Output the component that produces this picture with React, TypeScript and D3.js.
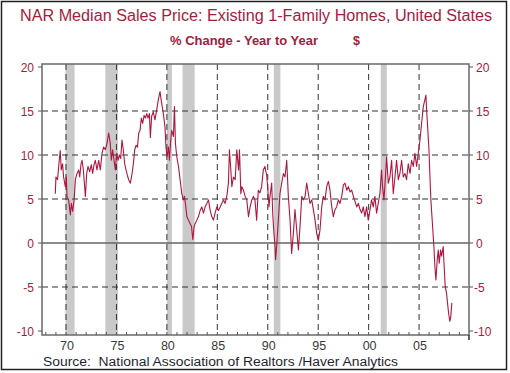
import React, { useEffect, useRef } from 'react';
import * as d3 from 'd3';

// % change year to year, NAR median sales price
const years = [
  1968.94, 1969.0, 1969.16, 1969.33, 1969.43, 1969.53, 1969.66, 1969.76, 1969.93, 1970.03,
  1970.1, 1970.26, 1970.43, 1970.53, 1970.66, 1970.8, 1970.93, 1971.09, 1971.26, 1971.36,
  1971.49, 1971.59, 1971.72, 1971.92, 1972.05, 1972.18, 1972.35, 1972.51, 1972.64, 1972.78,
  1972.91, 1973.07, 1973.24, 1973.4, 1973.57, 1973.73, 1973.9, 1974.06, 1974.23, 1974.39,
  1974.49, 1974.62, 1974.76, 1974.89, 1975.02, 1975.16, 1975.29, 1975.42, 1975.55, 1975.68,
  1975.82, 1975.95, 1976.08, 1976.21, 1976.38, 1976.55, 1976.68, 1976.81, 1976.94, 1977.08,
  1977.21, 1977.34, 1977.47, 1977.6, 1977.74, 1977.87, 1978.0, 1978.13, 1978.27, 1978.36,
  1978.49, 1978.65, 1978.82, 1978.99, 1979.15, 1979.32, 1979.48, 1979.65, 1979.81, 1979.91,
  1980.01, 1980.15, 1980.25, 1980.38, 1980.48, 1980.65, 1980.75, 1980.85, 1980.98, 1981.15,
  1981.31, 1981.48, 1981.64, 1981.74, 1981.88, 1981.98, 1982.14, 1982.31, 1982.44, 1982.57,
  1982.7, 1982.8, 1982.97, 1983.13, 1983.3, 1983.46, 1983.63, 1983.79, 1983.96, 1984.12,
  1984.29, 1984.45, 1984.62, 1984.78, 1984.95, 1985.11, 1985.28, 1985.44, 1985.61, 1985.77,
  1985.94, 1986.1, 1986.2, 1986.34, 1986.44, 1986.6, 1986.77, 1986.93, 1987.1, 1987.2,
  1987.33, 1987.43, 1987.59, 1987.76, 1987.92, 1988.09, 1988.25, 1988.42, 1988.58, 1988.73,
  1988.9, 1989.06, 1989.23, 1989.39, 1989.56, 1989.72, 1989.89, 1989.99, 1990.12, 1990.22,
  1990.39, 1990.49, 1990.59, 1990.72, 1990.78, 1990.88, 1991.05, 1991.21, 1991.38, 1991.55,
  1991.71, 1991.88, 1992.04, 1992.21, 1992.37, 1992.54, 1992.7, 1992.87, 1993.04, 1993.2,
  1993.37, 1993.53, 1993.7, 1993.86, 1994.03, 1994.19, 1994.36, 1994.52, 1994.69, 1994.85,
  1995.02, 1995.18, 1995.35, 1995.51, 1995.68, 1995.84, 1996.01, 1996.17, 1996.34, 1996.5,
  1996.67, 1996.83, 1997.0, 1997.16, 1997.33, 1997.5, 1997.66, 1997.83, 1997.99, 1998.16,
  1998.32, 1998.49, 1998.65, 1998.82, 1998.98, 1999.15, 1999.31, 1999.47, 1999.63, 1999.8,
  1999.96, 2000.13, 2000.29, 2000.46, 2000.62, 2000.79, 2000.95, 2001.12, 2001.28, 2001.38,
  2001.52, 2001.65, 2001.78, 2001.95, 2002.11, 2002.28, 2002.44, 2002.61, 2002.77, 2002.94,
  2003.1, 2003.27, 2003.43, 2003.6, 2003.76, 2003.93, 2004.1, 2004.26, 2004.43, 2004.59,
  2004.76, 2004.92, 2005.09, 2005.25, 2005.42, 2005.58, 2005.68, 2005.75, 2005.85, 2005.98,
  2006.08, 2006.17, 2006.34, 2006.47, 2006.57, 2006.67, 2006.8, 2006.9, 2007.0, 2007.13,
  2007.23, 2007.39, 2007.49, 2007.59, 2007.72, 2007.82, 2007.92, 2008.05, 2008.15, 2008.25,
];

const pctChange = [
  5.6, 7.5, 7.2, 9.4, 10.5, 8.3, 9.0, 7.5, 6.4, 7.5,
  5.3, 4.9, 3.2, 4.5, 3.6, 4.9, 7.2, 7.9, 8.3, 7.5,
  9.0, 9.4, 8.3, 5.3, 7.9, 8.7, 8.1, 8.9, 7.9, 8.9,
  9.4, 8.3, 9.4, 8.3, 10.2, 10.9, 10.6, 11.3, 12.5, 11.3,
  9.4, 10.6, 9.4, 8.3, 10.2, 9.4, 10.0, 9.6, 11.7, 10.6,
  9.0, 8.3, 7.7, 7.2, 6.8, 7.9, 9.0, 10.6, 11.1, 10.9,
  12.5, 12.8, 14.2, 13.6, 14.5, 14.2, 14.7, 14.2, 14.7, 12.0,
  14.4, 14.9, 14.0, 15.1, 16.3, 17.2, 15.9, 14.7, 13.2, 10.9,
  9.8, 10.9, 9.4, 11.7, 12.8, 12.1, 15.5, 11.3, 9.8, 8.7,
  7.2, 5.6, 4.9, 5.3, 4.1, 3.0, 2.6, 2.2, 1.9, 0.4,
  1.9, 2.2, 2.6, 3.0, 3.7, 4.1, 3.4, 4.1, 4.5, 4.9,
  3.7, 3.0, 2.6, 3.4, 4.1, 3.7, 4.1, 4.5, 4.9, 4.5,
  5.3, 6.8, 10.6, 8.3, 6.4, 7.5, 7.2, 10.6, 8.3, 10.6,
  5.6, 6.4, 6.0, 5.3, 4.9, 3.0, 4.1, 4.9, 5.3, 4.9,
  2.6, 6.0, 5.7, 6.4, 8.3, 8.7, 7.7, 6.4, 4.1, 5.3,
  6.8, 3.4, 1.5, -0.4, -1.9, -0.4, 2.6, 5.6, 6.8, 7.9,
  7.5, 9.4, 5.3, 2.6, -1.2, 1.1, 3.8, 1.5, -0.8, 1.9,
  5.3, 4.9, 5.3, 6.8, 5.6, 4.5, 4.9, 3.8, 2.6, 1.1,
  0.3, 1.5, 4.1, 5.3, 4.9, 6.4, 7.0, 6.0, 4.1, 3.0,
  3.8, 4.1, 4.9, 4.5, 5.3, 6.6, 6.8, 6.0, 6.4, 5.8,
  6.0, 5.3, 4.7, 4.1, 4.5, 3.8, 3.4, 4.1, 3.0, 4.1,
  2.6, 3.7, 4.9, 4.1, 5.3, 3.4, 4.5, 5.6, 8.3, 6.4,
  4.9, 7.2, 9.8, 6.8, 7.5, 9.4, 5.6, 7.5, 9.4, 7.2,
  7.9, 9.4, 7.5, 7.9, 7.2, 9.0, 7.9, 9.4, 8.7, 10.2,
  8.7, 10.2, 11.7, 13.6, 15.5, 16.3, 16.8, 15.1, 13.2, 10.6,
  7.5, 4.9, 1.9, -0.4, -2.7, -4.2, -1.9, -0.8, -2.3, -0.8,
  -1.5, -0.4, -2.7, -4.9, -5.7, -6.8, -7.9, -8.9, -8.3, -6.8,
];

// recession periods (start, end)
const recessionStart = [1969.95, 1973.9, 1980.0, 1981.55, 1990.6, 2001.2];
const recessionEnd = [1970.85, 1975.15, 1980.5, 1982.75, 1991.25, 2001.8];

const yTicks = [-10, -5, 0, 5, 10, 15, 20];
const xTickYears = [1970, 1975, 1980, 1985, 1990, 1995, 2000, 2005];
const xTickLabels = ['70', '75', '80', '85', '90', '95', '00', '05'];

const red = '#a51c3e';
const font = 'Arial, "Liberation Sans", sans-serif';

const NarChart = () => {
  const svgRef = useRef(null);

  useEffect(() => {
    const svg = d3.select(svgRef.current);
    svg.selectAll('*').remove();

    const left = 42, right = 469, top = 64, bottom = 335;

    const x = d3.scaleLinear().domain([1967.62, 2009.95]).range([left, right]);
    const y = d3.scaleLinear().domain([-10, 20]).range([331, 67]);

    // white background + outer frame
    svg.append('rect').attr('x', 0).attr('y', 0).attr('width', 510).attr('height', 373).attr('fill', '#fff');
    svg.append('rect')
      .attr('x', 1.5).attr('y', 1.5).attr('width', 505).attr('height', 368)
      .attr('fill', 'none').attr('stroke', '#222').attr('stroke-width', 1.5);

    // titles
    svg.append('text')
      .attr('x', 20).attr('y', 21)
      .style('font-family', font)
      .style('font-size', '16px')
      .attr('fill', red)
      .attr('textLength', 472)
      .attr('lengthAdjust', 'spacingAndGlyphs')
      .text('NAR Median Sales Price: Existing 1-Family Homes, United States');

    svg.append('text')
      .attr('x', 170).attr('y', 45)
      .style('font-family', font)
      .style('font-size', '12.5px')
      .style('font-weight', 'bold')
      .attr('fill', red)
      .attr('textLength', 148)
      .attr('lengthAdjust', 'spacingAndGlyphs')
      .text('% Change - Year to Year');

    svg.append('text')
      .attr('x', 353).attr('y', 45)
      .style('font-family', font)
      .style('font-size', '12.5px')
      .style('font-weight', 'bold')
      .attr('fill', red)
      .text('$');

    // recession shading
    svg.append('g')
      .selectAll('rect')
      .data(recessionStart)
      .enter()
      .append('rect')
      .attr('x', (d) => x(d))
      .attr('y', top)
      .attr('width', (d, i) => x(recessionEnd[i]) - x(d))
      .attr('height', bottom - top)
      .attr('fill', '#c9c9c9');

    // horizontal dashed grid
    svg.append('g')
      .selectAll('line')
      .data(yTicks.filter((t) => t !== 0 && t !== 20 && t !== -10))
      .enter()
      .append('line')
      .attr('x1', left).attr('x2', right)
      .attr('y1', (d) => y(d)).attr('y2', (d) => y(d))
      .attr('stroke', '#333')
      .attr('stroke-width', 1)
      .attr('stroke-dasharray', '6,4');

    // vertical dashed grid
    svg.append('g')
      .selectAll('line')
      .data(xTickYears)
      .enter()
      .append('line')
      .attr('x1', (d) => x(d)).attr('x2', (d) => x(d))
      .attr('y1', top).attr('y2', bottom)
      .attr('stroke', '#333')
      .attr('stroke-width', 1)
      .attr('stroke-dasharray', '6,4');

    // zero line
    svg.append('line')
      .attr('x1', left).attr('x2', right)
      .attr('y1', y(0)).attr('y2', y(0))
      .attr('stroke', '#666').attr('stroke-width', 1.5);

    // frame of plot
    svg.append('rect')
      .attr('x', left).attr('y', top).attr('width', right - left).attr('height', bottom - top)
      .attr('fill', 'none').attr('stroke', '#6a6a6a').attr('stroke-width', 1.5);

    // left axis ticks + labels
    const leftAxis = svg.append('g');
    yTicks.forEach((t) => {
      leftAxis.append('line')
        .attr('x1', left - 4).attr('x2', left)
        .attr('y1', y(t)).attr('y2', y(t))
        .attr('stroke', '#555').attr('stroke-width', 1);
      leftAxis.append('text')
        .attr('x', 34).attr('y', y(t) + 4.5)
        .attr('text-anchor', 'end')
        .style('font-family', font)
        .style('font-size', '12px')
        .attr('fill', red)
        .text(t);
    });

    // right axis ticks + labels
    const rightAxis = svg.append('g');
    yTicks.forEach((t) => {
      rightAxis.append('line')
        .attr('x1', right).attr('x2', right + 4)
        .attr('y1', y(t)).attr('y2', y(t))
        .attr('stroke', '#555').attr('stroke-width', 1);
      rightAxis.append('text')
        .attr('x', t < 0 ? 474 : 476).attr('y', y(t) + 4.5)
        .style('font-family', font)
        .style('font-size', '12px')
        .attr('fill', red)
        .text(t);
    });

    // bottom minor ticks (each year)
    svg.append('g')
      .selectAll('line')
      .data(d3.range(1968, 2010))
      .enter()
      .append('line')
      .attr('x1', (d) => x(d)).attr('x2', (d) => x(d))
      .attr('y1', bottom - 3).attr('y2', bottom)
      .attr('stroke', '#555').attr('stroke-width', 1);

    svg.append('line')
      .attr('x1', right).attr('x2', right)
      .attr('y1', bottom).attr('y2', bottom + 5)
      .attr('stroke', '#333').attr('stroke-width', 1.5);

    svg.append('g')
      .selectAll('text')
      .data(xTickYears)
      .enter()
      .append('text')
      .attr('x', (d) => x(d) + 1)
      .attr('y', 350)
      .attr('text-anchor', 'middle')
      .style('font-family', font)
      .style('font-size', '12.5px')
      .attr('fill', '#3a3a3a')
      .text((d, i) => xTickLabels[i]);

    // data line
    const line = d3.line()
      .x((d) => x(d[0]))
      .y((d) => y(d[1]));

    svg.append('path')
      .datum(years.map((yr, i) => [yr, pctChange[i]]))
      .attr('d', line)
      .attr('fill', 'none')
      .attr('stroke', '#b0173f')
      .attr('stroke-width', 1.1)
      .attr('stroke-linejoin', 'round');

    // source
    svg.append('text')
      .attr('x', 43).attr('y', 366)
      .style('font-family', font)
      .style('font-size', '12.5px')
      .attr('fill', '#1f1f33')
      .attr('xml:space', 'preserve')
      .attr('textLength', 355)
      .attr('lengthAdjust', 'spacingAndGlyphs')
      .text('Source:  National Association of Realtors /Haver Analytics');
  }, []);

  return (
    <svg
      ref={svgRef}
      width={510}
      height={373}
      style={{ position: 'absolute', left: 0, top: 0 }}
    ></svg>
  );
};

export default function App() {
  return <NarChart />;
}
